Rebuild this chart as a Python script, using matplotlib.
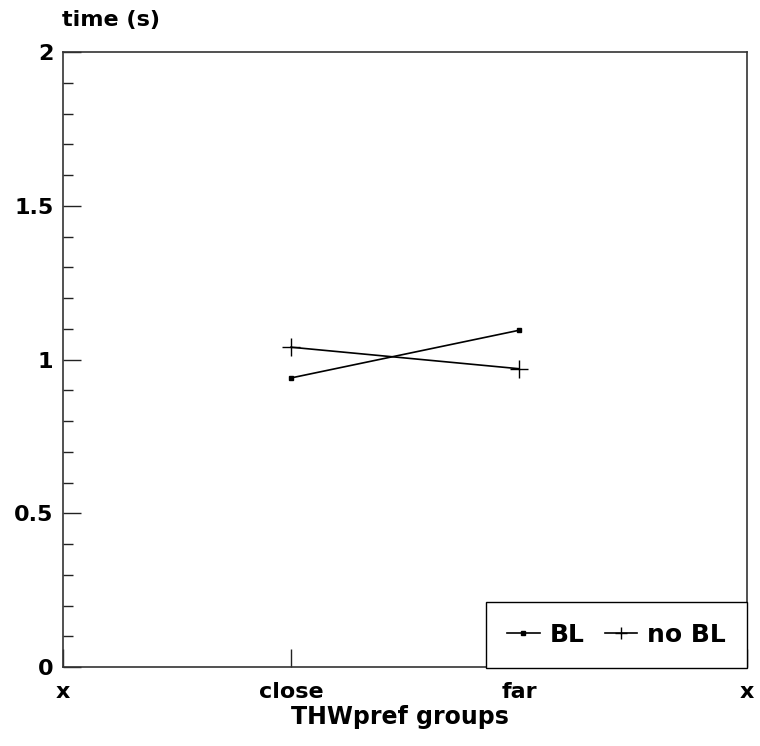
import matplotlib
matplotlib.use("Agg")
import matplotlib.pyplot as plt
from matplotlib.ticker import MultipleLocator

plt.rcParams["font.family"] = ["DejaVu Sans"]
plt.rcParams["font.weight"] = "bold"

# 数据
categories = ["x", "close", "far", "x"]
groups = ["close", "far"]
bl_values = [0.94, 1.095]
nobl_values = [1.04, 0.97]
yticks = [0, 0.5, 1, 1.5, 2]
ytick_labels = ["0", "0.5", "1", "1.5", "2"]

fig = plt.figure(figsize=(7.6, 7.46), dpi=100)
ax = fig.add_axes([63 / 760, 1 - 667 / 746, 684 / 760, 615 / 746])

xpos = [categories.index(g, 1) for g in groups]
ax.plot(xpos, bl_values, color="black", linewidth=1.2, marker="s",
        markersize=3.5, label="BL")
ax.plot(xpos, nobl_values, color="black", linewidth=1.2, marker="+",
        markersize=13, markeredgewidth=1.0, label="no BL")

ax.set_xlim(0, len(categories) - 1)
ax.set_ylim(0, 2)
ax.set_xticks(range(len(categories)))
ax.set_xticklabels(categories, fontsize=16, fontweight="bold")
ax.set_yticks(yticks)
ax.set_yticklabels(ytick_labels, fontsize=16, fontweight="bold")
ax.yaxis.set_minor_locator(MultipleLocator(0.1))
ax.tick_params(axis="both", which="major", direction="in", length=13,
               width=1, color="#222222", pad=7)
ax.tick_params(axis="y", which="minor", direction="in", length=7,
               width=1, color="#222222")
ax.tick_params(axis="x", which="major", pad=11)
for s in ax.spines.values():
    s.set_color("#333333")
    s.set_linewidth(1.2)

fig.text(62 / 760, 1 - 26 / 746, "time (s)", fontsize=16, fontweight="bold",
         ha="left", va="baseline")
fig.text(400 / 760, 1 - 724 / 746, "THWpref groups", fontsize=17,
         fontweight="bold", ha="center", va="baseline")

leg = ax.legend(loc="lower right", ncol=2, fontsize=18, frameon=True,
                fancybox=False, edgecolor="black", handlelength=1.3,
                handletextpad=0.4, columnspacing=0.8, borderpad=0.85,
                markerscale=0.7, bbox_to_anchor=(1.0, -0.002),
                borderaxespad=0)
leg.get_frame().set_linewidth(1.0)
leg.get_frame().set_alpha(1)
for t in leg.get_texts():
    t.set_fontweight("bold")

fig.savefig("out.png", dpi=100)
